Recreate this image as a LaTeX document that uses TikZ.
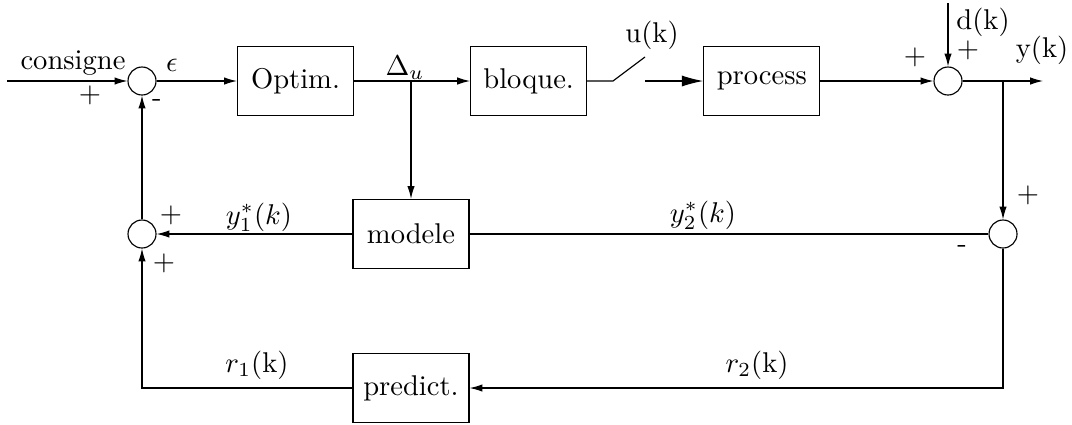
\documentclass[tikz,border=0pt]{standalone}
\usetikzlibrary{arrows.meta,positioning}
\begin{document}
\begin{tikzpicture}[
  x=0.35pt, y=-0.35pt, node distance=40.6pt,
  b/.style={draw,minimum width=40.6pt,minimum height=24.2pt,inner sep=0pt},
  s/.style={draw,circle,minimum size=9.8pt,inner sep=0pt},
  a/.style={-{Latex[length=4.5pt,width=2.6pt]}},
  ab/.style={-{Latex[length=7.5pt,width=3.9pt]}}]
\useasboundingbox (0,0) rectangle (1072,424);
\node[s] (s1) at (142,81) {};
\node[b] (optim) at (295.5,81) {Optim.};
\node[b,right=of optim] (bloq) {bloque.};
\node[b,right=of bloq] (proc) {process};
\node[s] (s2) at (948,81) {};
\node[s] (s3) at (1003,234) {};
\node[s] (s4) at (142,234) {};
\node[b] (modele) at (411,234) {modele};
\node[b] (pred) at (411,388) {predict.};
\coordinate (in) at (7,81);
\coordinate (du) at (411,81);
\coordinate (sw1) at (613,81);
\coordinate (sw2) at (645,57);
\coordinate (sw3) at (645,81);
\coordinate (yk) at (1003,81);
\coordinate (out) at (1043,81);
\coordinate (dk) at (948,3);
% liaisons
\draw[a] (in) -- (s1);
\draw[a] (s1) -- (optim);
\draw[a] (optim) -- (bloq);
\draw[a] (du) -- (modele);
\draw (bloq) -- (sw1) -- (sw2);
\draw[ab] (sw3) -- (proc);
\draw[a] (proc) -- (s2);
\draw[a] (dk) -- (s2);
\draw[a] (s2) -- (out);
\draw[a] (yk) -- (s3);
\draw (s3) -- (modele);
\draw[a] (modele) -- (s4);
\draw[a] (s3) |- (pred);
\draw[a] (pred) -| (s4);
\draw[a] (s4) -- (s1);
% etiquettes
\node (lcons) at (73,63) {consigne};
\node (lp1) at (90,95) {$+$};
\node (lm1) at (157,103) {-};
\node (leps) at (172,65) {$\epsilon$};
\node (ldu) at (405,68) {$\Delta_u$};
\node (luk) at (652,35) {u(k)};
\node (lp2) at (915,57) {$+$};
\node (lp3) at (968,50) {$+$};
\node (ldk) at (983,22) {d(k)};
\node (lyk) at (1042,50) {y(k)};
\node (lp4) at (1028,195) {$+$};
\node (lm2) at (962,249) {-};
\node (lp5) at (171,215) {$+$};
\node (lp6) at (164,263) {$+$};
\node (ly1) at (259,217) {$y_1^*(k)$};
\node (ly2) at (703,215) {$y_2^*(k)$};
\node (lr1) at (257,365) {$r_1$(k)};
\node (lr2) at (757,365) {$r_2$(k)};
\end{tikzpicture}
\end{document}
